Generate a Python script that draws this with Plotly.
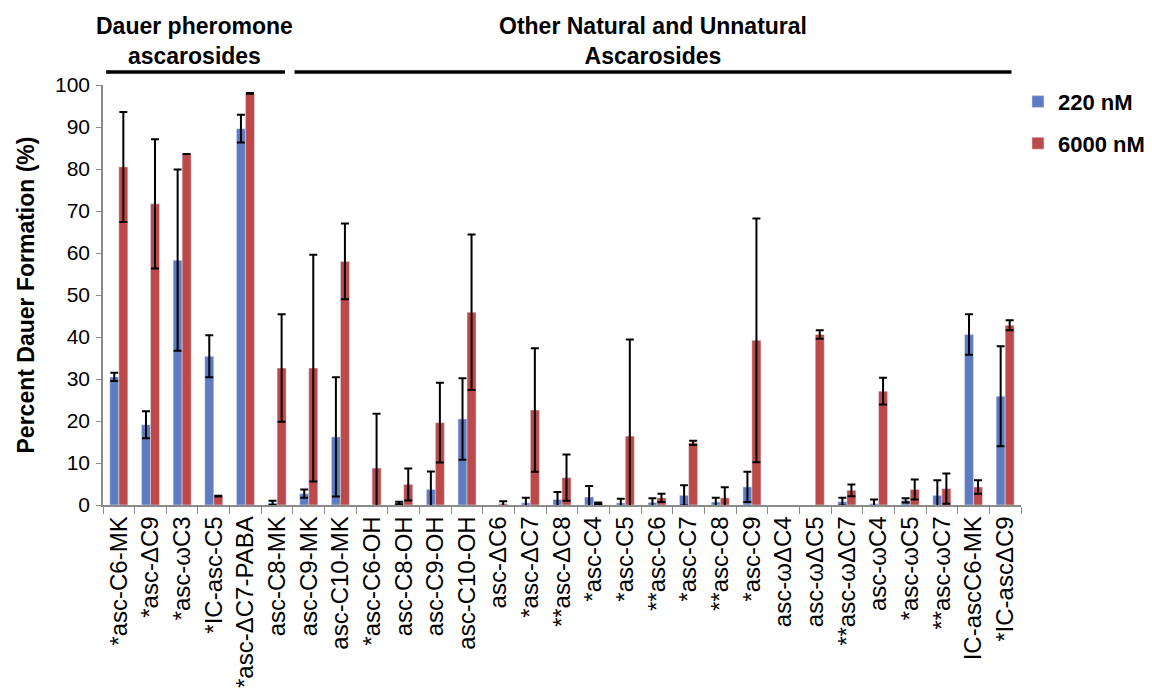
import plotly.graph_objects as go

categories = ["*asc-C6-MK", "*asc-ΔC9", "*asc-ωC3", "*IC-asc-C5", "*asc-ΔC7-PABA",
              "asc-C8-MK", "asc-C9-MK", "asc-C10-MK", "*asc-C6-OH", "asc-C8-OH",
              "asc-C9-OH", "asc-C10-OH", "asc-ΔC6", "*asc-ΔC7", "**asc-ΔC8",
              "*asc-C4", "*asc-C5", "**asc-C6", "*asc-C7", "**asc-C8", "*asc-C9",
              "asc-ωΔC4", "asc-ωΔC5", "**asc-ωΔC7", "asc-ωC4", "*asc-ωC5",
              "**asc-ωC7", "IC-ascC6-MK", "*IC-ascΔC9"]

# None = no bar visible in the reference (0 %)
val_220 = [30.5, 19.1, 58.3, 35.4, 89.6, 0.5, 2.7, 16.2, None, 0.5,
           3.7, 20.5, None, 0.5, 1.3, 1.9, 0.5, 0.6, 2.3, 0.7, 4.3,
           None, None, 0.8, 0.3, 1.1, 2.3, 40.6, 25.9]
err_220 = [1.0, 3.2, 21.6, 5.0, 3.3, 0.5, 1.0, 14.2, None, 0.3,
           4.3, 9.7, None, 1.2, 1.8, 2.6, 1.0, 1.0, 2.4, 1.0, 3.6,
           None, None, 0.9, 1.0, 0.5, 3.6, 4.8, 11.9]
val_6000 = [80.5, 71.7, 83.6, 2.1, 98.0, 32.6, 32.6, 58.0, 8.8, 4.9,
            19.6, 45.9, 0.3, 22.6, 6.5, 0.4, 16.4, 1.7, 14.8, 1.7, 39.2,
            None, 40.6, 3.5, 27.1, 3.7, 3.9, 4.3, 42.8]
err_6000 = [13.1, 15.4, None, 0.1, 0.1, 12.8, 27.0, 9.0, 12.9, 3.8,
            9.5, 18.5, 0.6, 14.7, 5.5, 0.2, 23.0, 1.0, 0.5, 2.5, 29.0,
            None, 1.0, 1.4, 3.2, 2.4, 3.6, 1.6, 1.2]

y_ticks = list(range(0, 101, 10))

group_labels = ["Dauer pheromone<br>ascarosides", "Other Natural and Unnatural<br>Ascarosides"]

BLUE = "#5f7bc2"
RED = "#bc4a4a"
FONT = "Liberation Sans, Arial, sans-serif"

fig = go.Figure()
fig.add_trace(go.Bar(
    x=categories, y=val_220, name="220 nM", marker_color=BLUE, legendgroup="a",
    error_y=dict(type="data", array=err_220, color="black", thickness=2, width=4),
))
fig.add_trace(go.Bar(
    x=categories, y=val_6000, name="6000 nM", marker_color=RED, legendgroup="b",
    error_y=dict(type="data", array=err_6000, color="black", thickness=2, width=4),
))

fig.update_layout(
    width=1152, height=700,
    paper_bgcolor="white", plot_bgcolor="white",
    margin=dict(l=95, r=139, t=77, b=203, autoexpand=False),
    barmode="group", bargap=0.43, bargroupgap=0,
    font=dict(family=FONT, color="black"),
    legend=dict(x=0.9967, y=1.01, xanchor="left", yanchor="top",
                font=dict(family=FONT, size=22, color="black", weight="bold"),
                tracegroupgap=10, traceorder="grouped", itemwidth=30),
    xaxis=dict(
        type="category", tickangle=-90, tickfont=dict(size=24, family=FONT),
        showline=True, linecolor="#8a8a8a", linewidth=1.5,
        ticks="outside", tickson="boundaries", ticklen=7, tickcolor="#8a8a8a",
        showgrid=False, range=[-0.5, len(categories) - 0.5], automargin=False,
    ),
    yaxis=dict(
        range=[0, 100], tickvals=y_ticks, tickfont=dict(size=21, family=FONT),
        showline=True, linecolor="#8a8a8a", linewidth=1.5,
        ticks="outside", ticklen=5, tickcolor="#8a8a8a", ticklabelstandoff=2,
        showgrid=False, zeroline=False, automargin=False,
        title=dict(text="<b>Percent Dauer Formation (%)</b>", font=dict(size=23, family=FONT), standoff=14),
    ),
)

# group brackets above the plot
fig.add_shape(type="line", xref="x", yref="paper", x0=-0.4, x1=5.25, y0=1.031, y1=1.031,
              line=dict(color="black", width=3.5))
fig.add_shape(type="line", xref="x", yref="paper", x0=5.55, x1=28.2, y0=1.031, y1=1.031,
              line=dict(color="black", width=3.5))
fig.add_annotation(x=2.4, xref="x", y=1.104, yref="paper", yanchor="middle",
                   text="<b>" + group_labels[0] + "</b>", showarrow=False,
                   font=dict(family=FONT, size=23, color="black"))
fig.add_annotation(x=16.86, xref="x", y=1.104, yref="paper", yanchor="middle",
                   text="<b>" + group_labels[1] + "</b>", showarrow=False,
                   font=dict(family=FONT, size=23, color="black"))

fig.write_html("out.html")
